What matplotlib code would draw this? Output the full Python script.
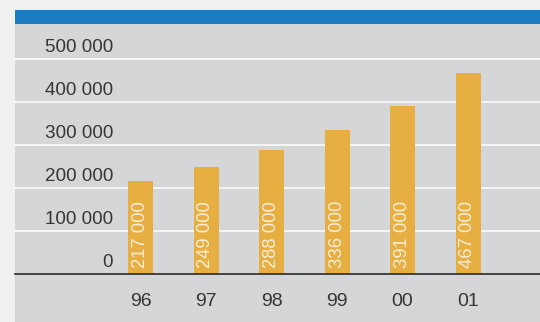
import matplotlib
matplotlib.use("Agg")
import matplotlib.pyplot as plt
import matplotlib.transforms as mtransforms
from matplotlib.patches import Rectangle

years = ["96", "97", "98", "99", "00", "01"]
values = [217000, 249000, 288000, 336000, 391000, 467000]
bar_labels = ["217 000", "249 000", "288 000", "336 000", "391 000", "467 000"]
y_ticks = [0, 100000, 200000, 300000, 400000, 500000]
y_labels = ["0", "100 000", "200 000", "300 000", "400 000", "500 000"]

W, H = 540, 322
fig = plt.figure(figsize=(W / 100, H / 100), dpi=100, facecolor="#f1f1ef")
plt.rcParams["font.family"] = ["Liberation Sans", "DejaVu Sans"]

gray = "#d4d6d8"
blue = "#1b7cc0"
orange = "#e7ae42"
text_col = "#363636"

# background panels (figure pixel layout), drawn below the axes
fig.patches.append(Rectangle((15 / W, 0), 1, (H - 24) / H, transform=fig.transFigure,
                             facecolor=gray, edgecolor="none", zorder=-10))
fig.patches.append(Rectangle((15 / W, (H - 24) / H), 1, 14 / H, transform=fig.transFigure,
                             facecolor=blue, edgecolor="none", zorder=-10))

# axes: left 15px, right 540px, baseline at y=274px, top at y=24px
ax = fig.add_axes([15 / W, (H - 274) / H, (W - 15) / W, 250 / H])
ax.set_facecolor("none")
px_per_unit = 43.0 / 100000
ax.set_ylim(0, 250 / px_per_unit)
step = 65.5
ax.set_xlim(-(140.5 - 15) / step, (540 - 140.5) / step)

x = list(range(len(years)))
for yt in y_ticks[1:]:
    ax.axhline(yt, color="white", lw=1.1, zorder=1)
ax.axhline(0, color="#2a2a2a", lw=1.2, zorder=3, clip_on=False)

ax.bar(x, values, width=25 / step, color=orange, zorder=2)

for i, lab in enumerate(bar_labels):
    tr = mtransforms.offset_copy(ax.transData, fig=fig, x=0, y=6, units="dots")
    ax.text(x[i], 0, lab, rotation=90, ha="center", va="bottom", color="#f6eed8",
            fontsize=13.3, transform=tr, zorder=4)

ytr = mtransforms.offset_copy(ax.get_yaxis_transform(), fig=fig, x=0, y=3, units="dots")
for yt, lab in zip(y_ticks, y_labels):
    ax.text((113 - 15) / (W - 15), yt, lab, ha="right", va="bottom", color=text_col,
            fontsize=13.6, transform=ytr)

xtr = mtransforms.offset_copy(ax.get_xaxis_transform(), fig=fig, x=0, y=-27, units="dots")
for i, lab in enumerate(years):
    ax.text(x[i], 0, lab, ha="center", va="center", color=text_col,
            fontsize=14, transform=xtr, clip_on=False)

ax.set_xticks([])
ax.set_yticks([])
for s in ax.spines.values():
    s.set_visible(False)

fig.savefig("out.png", dpi=100, facecolor=fig.get_facecolor())
